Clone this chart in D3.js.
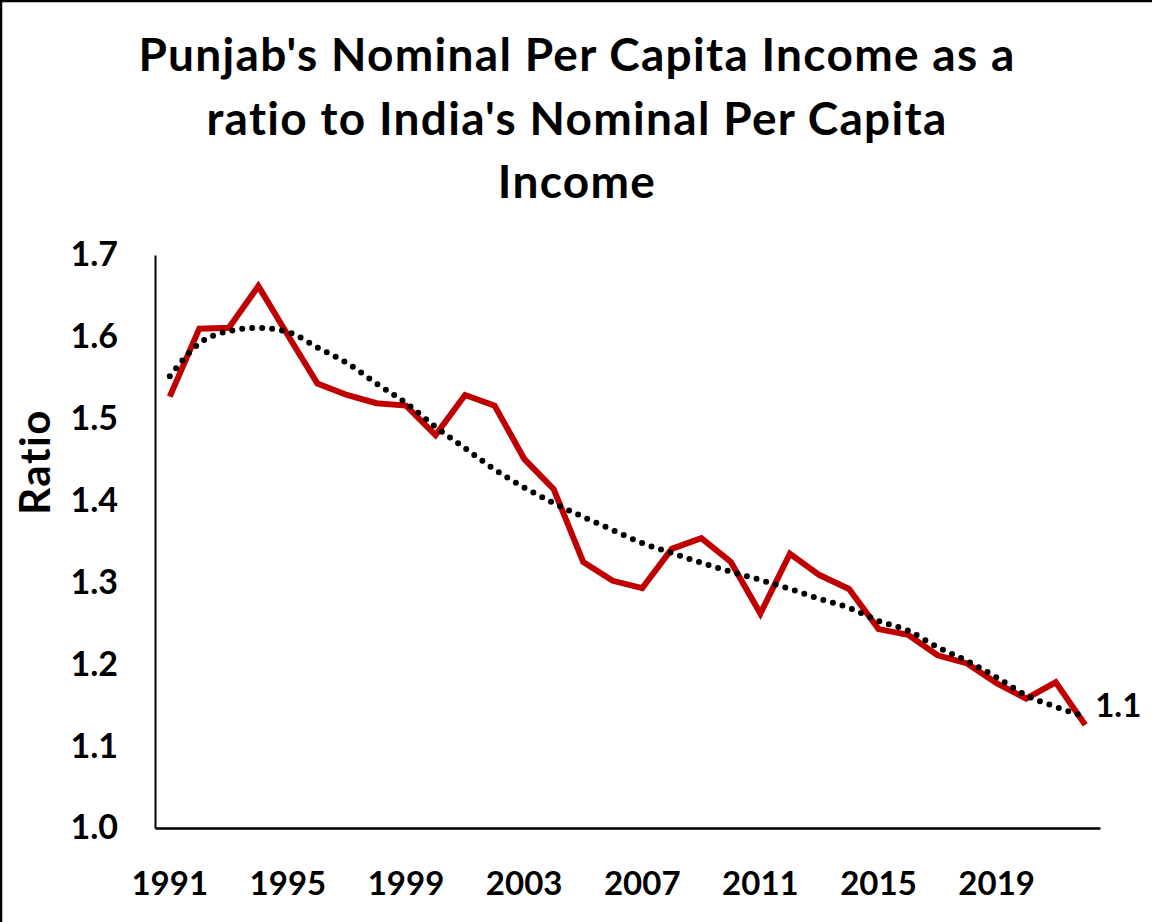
<!DOCTYPE html>
<html>
<head>
<meta charset="utf-8">
<script src="https://cdn.jsdelivr.net/npm/d3@7"></script>
<style>
  html, body { margin: 0; padding: 0; background: #fff; }
  svg { display: block; }
  text { font-family: Lato, "Open Sans", sans-serif; font-weight: bold; fill: #000;
         font-variant-ligatures: none; }
</style>
</head>
<body>
<div id="chart"></div>
<script>
const years = d3.range(1991, 2023);
const ratio = [
    1.527, 1.610, 1.611, 1.662, 1.602, 1.543, 1.529, 1.519, 1.516, 1.480,
    1.529, 1.516, 1.451, 1.414, 1.325, 1.302, 1.293, 1.341, 1.354, 1.325,
    1.262, 1.335, 1.309, 1.292, 1.243, 1.236, 1.211, 1.201, 1.177, 1.158,
    1.178, 1.126
];
// dotted trendline as drawn in the original
const trend = [
    1.552, 1.592, 1.607, 1.611, 1.606, 1.587, 1.568, 1.543, 1.519, 1.490,
    1.464, 1.438, 1.416, 1.397, 1.380, 1.364, 1.348, 1.336, 1.324, 1.313,
    1.303, 1.292, 1.280, 1.269, 1.253, 1.241, 1.221, 1.204, 1.184, 1.162,
    1.148, 1.136
];
const yTicks = [1.0, 1.1, 1.2, 1.3, 1.4, 1.5, 1.6, 1.7];
const xTicks = [1991, 1995, 1999, 2003, 2007, 2011, 2015, 2019];
const titleLines = [
    "Punjab's Nominal Per Capita Income as a",
    "ratio to India's Nominal Per Capita",
    "Income"
];
const yLabel = "Ratio";
const endLabel = "1.1";

const W = 1152, H = 922;
const plot = { left: 155, right: 1100, top: 255, bottom: 828 };

const svg = d3.select("#chart")
    .append("svg")
    .attr("width", W)
    .attr("height", H);

// frame lines (top and left edges only)
svg.append("line").attr("x1", 0).attr("x2", W).attr("y1", 1).attr("y2", 1)
    .attr("stroke", "#000").attr("stroke-width", 2.5);
svg.append("line").attr("x1", 1).attr("x2", 1).attr("y1", 0).attr("y2", H)
    .attr("stroke", "#000").attr("stroke-width", 2.5);

// title
svg.append("text")
    .attr("text-anchor", "middle")
    .style("font-size", "46px")
    .style("letter-spacing", "1.3px")
    .selectAll("tspan")
    .data(titleLines)
    .enter()
    .append("tspan")
    .attr("x", 577)
    .attr("y", (d, i) => 71 + i * 63.5)
    .text(d => d);

const xScale = d3.scaleBand()
    .domain(years)
    .range([plot.left, plot.right]);

const yScale = d3.scaleLinear()
    .domain([1.0, 1.7])
    .range([plot.bottom, plot.top]);

const xPos = d => xScale(d) + xScale.bandwidth() / 2;

// axes
const yAxis = svg.append("g")
    .attr("transform", `translate(${plot.left},0)`)
    .call(d3.axisLeft(yScale)
        .tickValues(yTicks)
        .tickFormat(d3.format(".1f"))
        .tickSize(0)
        .tickPadding(37));
yAxis.select(".domain").attr("stroke", "#000").attr("stroke-width", 2);
yAxis.selectAll("text").style("font-size", "34px").style("font-family", null);

const xAxis = svg.append("g")
    .attr("transform", `translate(0,${plot.bottom})`)
    .call(d3.axisBottom(xScale)
        .tickValues(xTicks)
        .tickSize(0)
        .tickPadding(44));
xAxis.select(".domain").attr("stroke", "#000").attr("stroke-width", 2.5);
xAxis.selectAll("text").style("font-size", "33px").style("font-family", null);
svg.selectAll(".tick line").remove();

// axis title
svg.append("text")
    .attr("transform", "translate(50,462) rotate(-90)")
    .attr("text-anchor", "middle")
    .style("font-size", "42px")
    .style("letter-spacing", "1.5px")
    .text(yLabel);

// red series
const line = d3.line()
    .x((d, i) => xPos(years[i]))
    .y(d => yScale(d));

svg.append("path")
    .datum(ratio)
    .attr("fill", "none")
    .attr("stroke", "#C00000")
    .attr("stroke-width", 6)
    .attr("stroke-linejoin", "miter")
    .attr("d", line);

// dotted trendline
svg.append("path")
    .datum(trend)
    .attr("fill", "none")
    .attr("stroke", "#000")
    .attr("stroke-width", 6)
    .attr("stroke-linecap", "round")
    .attr("stroke-dasharray", "0 10")
    .attr("d", d3.line().curve(d3.curveMonotoneX)
        .x((d, i) => xPos(years[i]))
        .y(d => yScale(d)));

// end value label
svg.append("text")
    .attr("x", xPos(years[years.length - 1]) + 10)
    .attr("y", yScale(ratio[ratio.length - 1]) - 8)
    .style("font-size", "33px")
    .text(endLabel);
</script>
</body>
</html>
